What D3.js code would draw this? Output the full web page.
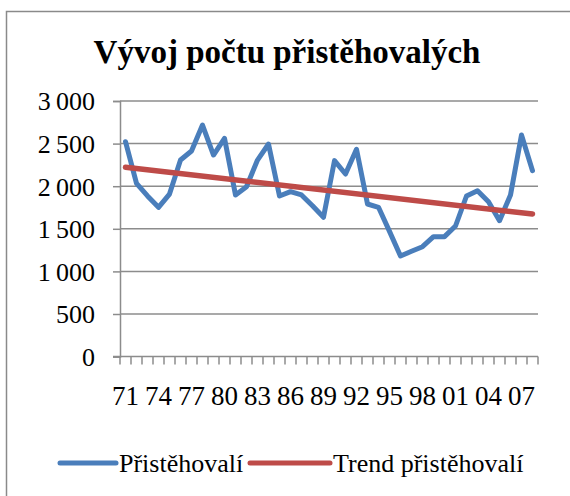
<!DOCTYPE html>
<html>
<head>
<meta charset="utf-8">
<script src="https://cdn.jsdelivr.net/npm/d3@7/dist/d3.min.js"></script>
<style>
  html, body { margin: 0; padding: 0; background: #fff; }
  svg { display: block; }
  text { font-family: "Liberation Serif", "Times New Roman", serif; fill: #000; }
</style>
</head>
<body>
<svg id="chart" width="570" height="496"></svg>
<script>
// Years 1971–2008
const years = [1971, 1972, 1973, 1974, 1975, 1976, 1977, 1978, 1979, 1980,
               1981, 1982, 1983, 1984, 1985, 1986, 1987, 1988, 1989, 1990,
               1991, 1992, 1993, 1994, 1995, 1996, 1997, 1998, 1999, 2000,
               2001, 2002, 2003, 2004, 2005, 2006, 2007, 2008];

// Number of immigrants per year
const immigrants = [2522, 2034, 1886, 1752, 1908, 2307, 2413, 2718, 2366, 2562,
                    1897, 1994, 2307, 2495, 1885, 1936, 1897, 1771, 1635, 2300,
                    2143, 2433, 1791, 1752, 1470, 1181, 1236, 1290, 1408, 1408,
                    1533, 1885, 1947, 1818, 1595, 1897, 2601, 2182];

// Linear trend: value at the first and at the last year
const trendYears = [1971, 2008];
const trendValues = [2222, 1674];

const yTickValues = [0, 500, 1000, 1500, 2000, 2500, 3000];
const xTickYears = [1971, 1974, 1977, 1980, 1983, 1986, 1989, 1992, 1995, 1998, 2001, 2004, 2007];
const xTickLabels = ["71", "74", "77", "80", "83", "86", "89", "92", "95", "98", "01", "04", "07"];

const seriesNames = ["Přistěhovalí", "Trend přistěhovalí"];
const seriesColors = ["#4a7ebb", "#be4b48"];

const svg = d3.select("#chart");
const plot = { left: 120, right: 538, top: 101, bottom: 356.6 };

// Outer chart frame
svg.append("rect")
  .attr("x", 6.5).attr("y", 11.5)
  .attr("width", 600).attr("height", 520)
  .attr("fill", "#fff")
  .attr("stroke", "#8a8a8a")
  .attr("stroke-width", 1.5);

// Title
svg.append("text")
  .attr("x", 287).attr("y", 63)
  .attr("text-anchor", "middle")
  .attr("font-size", 33)
  .attr("font-weight", "bold")
  .text("Vývoj počtu přistěhovalých");

const x = d3.scaleBand().domain(years).range([plot.left, plot.right]).paddingInner(0).paddingOuter(0);
const y = d3.scaleLinear().domain([0, 3000]).range([plot.bottom, plot.top]);
const cx = d => x(d) + x.bandwidth() / 2;

// Horizontal gridlines
svg.append("g")
  .selectAll("line")
  .data(yTickValues.filter(v => v > 0))
  .join("line")
  .attr("x1", plot.left).attr("x2", plot.right)
  .attr("y1", d => y(d)).attr("y2", d => y(d))
  .attr("stroke", "#8c8c8c")
  .attr("stroke-width", 1.5);

// Y axis
const yAxis = svg.append("g")
  .attr("transform", `translate(${plot.left},0)`)
  .call(d3.axisLeft(y).tickValues(yTickValues).tickSize(7).tickPadding(18)
    .tickFormat(d => d3.format(",")(d).replace(/,/g, "\u2009")));
yAxis.selectAll(".domain, line").attr("stroke", "#8c8c8c").attr("stroke-width", 1.5);
yAxis.selectAll("text").attr("font-size", 26).attr("font-family", "Liberation Serif").attr("dy", "0.34em");

// X axis: ticks between categories
const xAxisG = svg.append("g");
xAxisG.append("line")
  .attr("x1", plot.left - 7).attr("x2", plot.right)
  .attr("y1", plot.bottom).attr("y2", plot.bottom)
  .attr("stroke", "#8c8c8c").attr("stroke-width", 1.5);
const boundaries = years.map(d => x(d)).concat([x(years[years.length - 1]) + x.bandwidth()]);
xAxisG.selectAll("line.tick")
  .data(boundaries)
  .join("line")
  .attr("class", "tick")
  .attr("x1", d => d).attr("x2", d => d)
  .attr("y1", plot.bottom).attr("y2", plot.bottom + 8)
  .attr("stroke", "#8c8c8c").attr("stroke-width", 1.5);
xAxisG.selectAll("text")
  .data(xTickYears)
  .join("text")
  .attr("x", d => cx(d))
  .attr("y", 405)
  .attr("text-anchor", "middle")
  .attr("font-size", 27)
  .text((d, i) => xTickLabels[i]);

// Immigrants line
svg.append("path")
  .datum(years.map((yr, i) => [yr, immigrants[i]]))
  .attr("fill", "none")
  .attr("stroke", seriesColors[0])
  .attr("stroke-width", 5)
  .attr("stroke-linejoin", "round")
  .attr("stroke-linecap", "round")
  .attr("d", d3.line().x(d => cx(d[0])).y(d => y(d[1])));

// Trend line
svg.append("path")
  .datum(trendYears.map((yr, i) => [yr, trendValues[i]]))
  .attr("fill", "none")
  .attr("stroke", seriesColors[1])
  .attr("stroke-width", 5.5)
  .attr("stroke-linecap", "round")
  .attr("d", d3.line().x(d => cx(d[0])).y(d => y(d[1])));

// Legend
const legendItems = [
  { x1: 60, x2: 116, tx: 119 },
  { x1: 250, x2: 330, tx: 333 }
];
const legend = svg.append("g");
legendItems.forEach((it, i) => {
  legend.append("line")
    .attr("x1", it.x1).attr("x2", it.x2)
    .attr("y1", 463).attr("y2", 463)
    .attr("stroke", seriesColors[i])
    .attr("stroke-width", 5)
    .attr("stroke-linecap", "round");
  legend.append("text")
    .attr("x", it.tx).attr("y", 472)
    .attr("font-size", 26)
    .text(seriesNames[i]);
});
</script>
</body>
</html>
